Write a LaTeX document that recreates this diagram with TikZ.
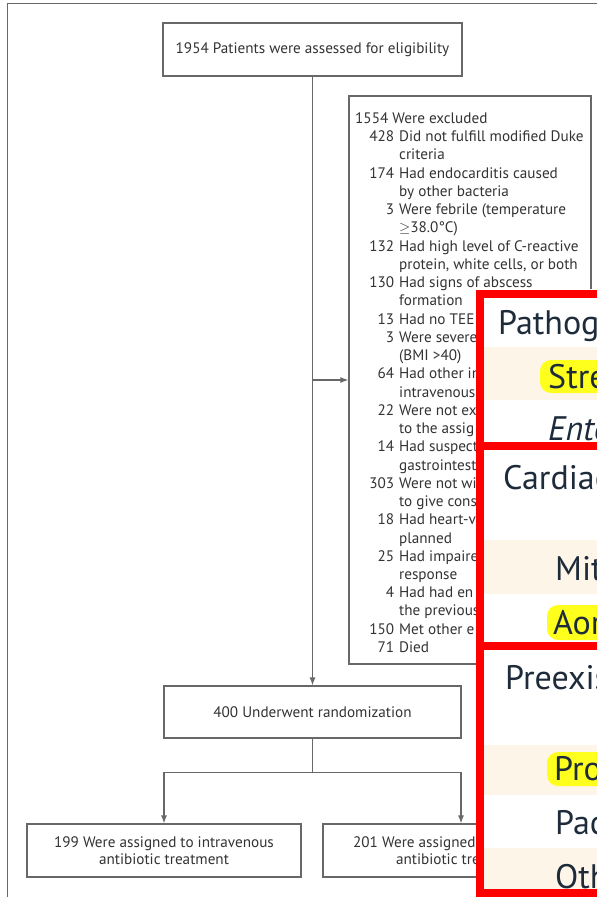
\documentclass[tikz,border=0pt]{standalone}
\usepackage{fontspec}
\setmainfont{PT Sans}
\usetikzlibrary{arrows.meta,positioning}
\definecolor{vien}{HTML}{686868}
\definecolor{chu}{HTML}{333333}
\definecolor{dodam}{HTML}{FF0000}
\definecolor{kem}{HTML}{FDF5E8}
\definecolor{vang}{HTML}{FFFF1E}
\definecolor{xanhden}{HTML}{1E2B3A}
\begin{document}
\begin{tikzpicture}[x=1pt,y=-1pt,
    hop/.style={draw=vien,line width=1.2pt,text=chu,inner sep=0pt,align=center,
      font=\fontsize{15.2}{16.5}\selectfont},
    muiten/.style={draw=vien,line width=1.2pt,-{Latex[length=8pt,width=6pt]}},
    duong/.style={draw=vien,line width=1.2pt},
    dong/.style={anchor=base west,inner sep=0pt,text=xanhden,font=\fontsize{34}{40}\selectfont},
    khungdo/.style={draw=dodam,line width=8pt}]
    % Khung trang
    \clip (0,0) rectangle (597,897);
    \fill[white] (0,0) rectangle (597,897);
    \draw[vien,line width=1.5pt] (7.5,905) -- (7.5,3.5) -- (605,3.5);

    % Các hộp của sơ đồ
    \node[hop,minimum width=299pt,minimum height=53pt] (dau) at (312.5,49.5)
      {1954 Patients were assessed for eligibility};
    \node[hop,minimum width=242pt,minimum height=568pt] (loai) at (470,380) {};
    \node[hop,minimum width=297pt,minimum height=52pt] (ngaunhien) at (312.5,712)
      {400 Underwent randomization};
    \node[hop,minimum width=274pt,minimum height=53pt] (tinhmach) at (164,850.5)
      {199 Were assigned to intravenous\\antibiotic treatment};
    \node[hop,minimum width=276pt,minimum height=53pt] (uong) at (461,850.5)
      {201 Were assigned t\phantom{o partial oral}\\antibiotic tre\phantom{atment}};

    % Danh sách bị loại
    \node[anchor=base west,inner sep=0pt,text=chu,font=\fontsize{15.2}{18.24}\selectfont]
      (dsloai) at (355,123.5) {%
      \begin{tabular}[t]{@{}r@{\hspace{5pt}}l@{}}
      \multicolumn{2}{@{}l@{}}{1554 Were excluded}\\
      \makebox[39pt][r]{428} & Did not fulfill modified Duke\\
       & criteria\\
      174 & Had endocarditis caused\\
       & by other bacteria\\
      3 & Were febrile (temperature\\
       & $\geq$38.0°C)\\
      132 & Had high level of C-reactive\\
       & protein, white cells, or both\\
      130 & Had signs of abscess\\
       & formation\\
      13 & Had no TEE\\
      3 & Were severe\\
       & (BMI >40)\\
      64 & Had other in\\
       & intravenous\\
      22 & Were not ex\\
       & to the assig\\
      14 & Had suspect\\
       & gastrointest\\
      303 & Were not wi\\
       & to give cons\\
      18 & Had heart-v\\
       & planned\\
      25 & Had impaire\\
       & response\\
      4 & Had had en\\
       & the previous\\
      150 & Met other e\\
      71 & Died
      \end{tabular}};

    % Các mũi tên
    \draw[muiten] (dau) -- (ngaunhien);
    \draw[muiten] (dau.south |- loai.west) -- (loai.west);
    \draw[duong] (ngaunhien.south) -- ++(0,34) coordinate (re);
    \draw[muiten] (re) -| (tinhmach.north);
    \draw[muiten] (re) -| (uong.north);

    % Phần bảng dán đè
    \fill[white] (476,289) rectangle (605,905);
    \fill[kem] (480,347) rectangle (605,400);
    \fill[kem] (480,540) rectangle (605,594);
    \fill[kem] (480,745) rectangle (605,795);
    \fill[kem] (480,848) rectangle (605,893);
    \fill[vang,rounded corners=11pt] (540,360) rectangle (640,393);
    \fill[vang,rounded corners=11pt] (547,605) rectangle (640,640);
    \fill[vang,rounded corners=11pt] (547,752) rectangle (640,786);

    \node[dong] (mamb) at (498,334) {Pathog};
    \node[dong] (lienc) at (548,388) {Stre};
    \node[dong] (ruot) at (548,440) {\itshape Ente};
    \node[dong] (tim) at (503,489) {Cardiac};
    \node[dong] (hai) at (555,580) {Mit};
    \node[dong] (chu) at (553,634) {Aor};
    \node[dong] (sannc) at (505,689) {Preexis};
    \node[dong] (nhantao) at (554,780) {Pro};
    \node[dong] (maytao) at (555,834) {Pac};
    \node[dong] (khac) at (555,888) {Oth};

    \draw[khungdo] (480,294) rectangle (640,446);
    \draw[khungdo] (480,446) rectangle (640,646);
    \draw[khungdo] (480,646) rectangle (640,893);
\end{tikzpicture}
\end{document}
